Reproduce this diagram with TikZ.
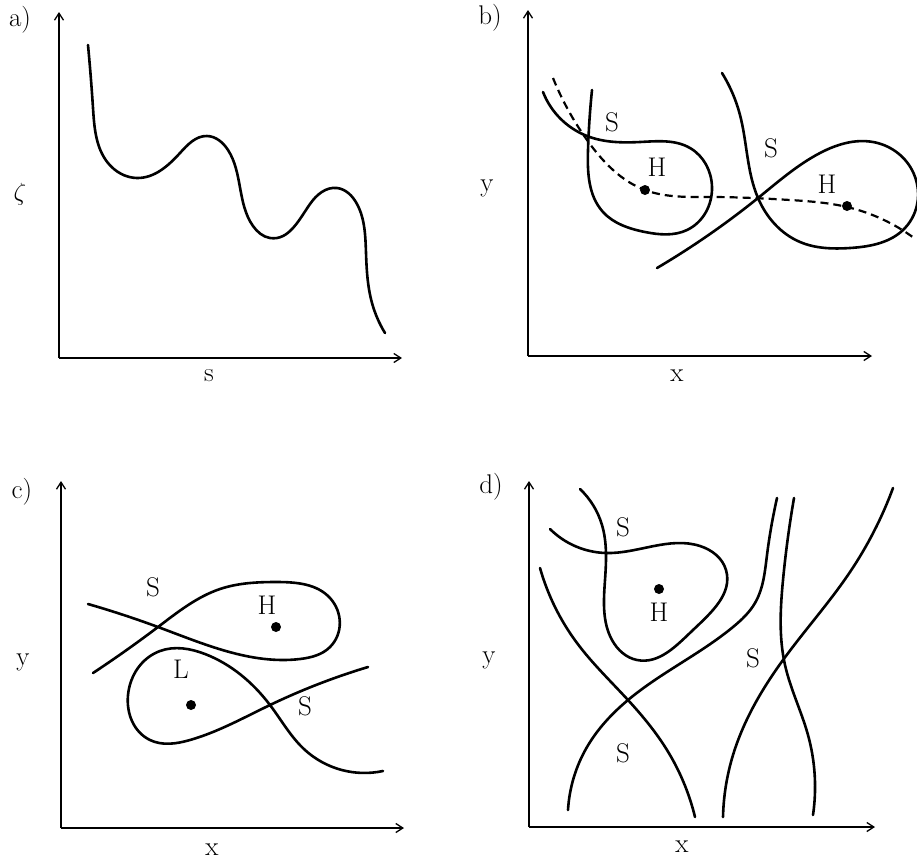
\documentclass[tikz,border=0pt]{standalone}
\usetikzlibrary{arrows.meta,hobby}
\begin{document}
\begin{tikzpicture}[x=1pt,y=-1pt,use Hobby shortcut,
  axis/.style={line width=1.3pt,-{Straight Barb[length=7pt,width=9pt]}},
  curve/.style={line width=2.6pt,line cap=round,line join=round},
  dashcurve/.style={line width=2.2pt,dash pattern=on 8pt off 5pt},
  lbl/.style={font=\fontsize{27}{30}\selectfont,inner sep=0pt},
  dotm/.style={circle,fill=black,inner sep=0pt,minimum size=10pt}]
\useasboundingbox (0,0) rectangle (917,860);
% ---------- panel a ----------
\coordinate (ao) at (59,358);
\coordinate (ay) at (59,12);
\coordinate (ax) at (402,358);
\draw[axis] (ao) -- (ay);
\draw[axis] (ao) -- (ax);
\node[lbl] (la) at (20,20) {a)};
\node[lbl] (lzeta) at (20,194) {$\zeta$};
\node[lbl] (ls) at (209,376) {s};
\draw[curve] (88,45) .. (93,108) .. (108,163) .. (137,178) .. (180,153) .. (207,136) .. (228,150) .. (253,226) .. (270,238) .. (310,204) .. (337,188) .. (357,204) .. (366,253) .. (372,303) .. (385,333);
% ---------- panel b ----------
\coordinate (bo) at (528,356);
\coordinate (by) at (528,10);
\coordinate (bx) at (872,356);
\draw[axis] (bo) -- (by);
\draw[axis] (bo) -- (bx);
\node[lbl] (lb) at (490,18) {b)};
\node[lbl] (lyb) at (487,188) {y};
\node[lbl] (lxb) at (677,376) {x};
\node[lbl] (sb1) at (612,122) {S};
\node[lbl] (sb2) at (771,148) {S};
\node[lbl] (hb1) at (657,167) {H};
\node[lbl] (hb2) at (827,184) {H};
\draw[curve] (543,92) .. (587,136) .. (640,142) .. (690,148) .. (712,187) .. (687,230) .. (645,232) .. (603,212) .. (588,150) .. (592,90);
\draw[curve] (722,73) .. (740,115) .. (758,198) .. (800,242) .. (850,248) .. (905,228) .. (912,170) .. (873,142) .. (820,153) .. (758,198) .. (657,268);
\draw[dashcurve] (553,78) .. (587,140) .. (645,190) .. (710,197) .. (790,200) .. (847,207) .. (914,238);
\node[dotm] (db1) at (645,190) {};
\node[dotm] (db2) at (847,206) {};
% ---------- panel c ----------
\coordinate (co) at (61,828);
\coordinate (cy) at (61,481);
\coordinate (cx) at (404,828);
\draw[axis] (co) -- (cy);
\draw[axis] (co) -- (cx);
\node[lbl] (lc) at (22,492) {c)};
\node[lbl] (lyc) at (23,662) {y};
\node[lbl] (lxc) at (212,850) {x};
\node[lbl] (sc1) at (153,587) {S};
\node[lbl] (sc2) at (305,706) {S};
\node[lbl] (hc) at (267,605) {H};
\node[lbl] (lcL) at (181,669) {L};
\node[dotm] (dc1) at (276,627) {};
\node[dotm] (dc2) at (191,705) {};
\draw[curve] (93,673) .. (158,627) .. (220,589) .. (277,582) .. (330,598) .. (330,647) .. (300,659) .. (158,627) .. (88,604);
\draw[curve] (368,667) .. (270,705) .. (190,740) .. (150,740) .. (128,695) .. (160,651) .. (205,654) .. (270,705) .. (305,750) .. (383,771);
% ---------- panel d ----------
\coordinate (do) at (529,827);
\coordinate (dy) at (529,481);
\coordinate (dx) at (875,827);
\draw[axis] (do) -- (dy);
\draw[axis] (do) -- (dx);
\node[lbl] (ld) at (491,487) {d)};
\node[lbl] (lyd) at (489,660) {y};
\node[lbl] (lxd) at (682,847) {x};
\node[lbl] (sd1) at (623,527) {S};
\node[lbl] (sd2) at (753,658) {S};
\node[lbl] (sd3) at (623,753) {S};
\node[lbl] (hd) at (659,612) {H};
\node[dotm] (dd) at (659,589) {};
\draw[curve] (580,489) .. (602,525) .. (605,580) .. (612,640) .. (637,660) .. (693,630) .. (726,570) .. (700,546) .. (606,553) .. (550,529);
\draw[curve] (540,568) .. (577,643) .. (628,700) .. (667,750) .. (695,817);
\draw[curve] (568,810) .. (587,747) .. (628,700) .. (733,627) .. (755,603) .. (767,555) .. (777,498);
\draw[curve] (794,498) .. (783,580) .. (785,665) .. (808,735) .. (813,815);
\draw[curve] (723,817) .. (733,755) .. (783,660) .. (850,572) .. (893,488);
\end{tikzpicture}
\end{document}
